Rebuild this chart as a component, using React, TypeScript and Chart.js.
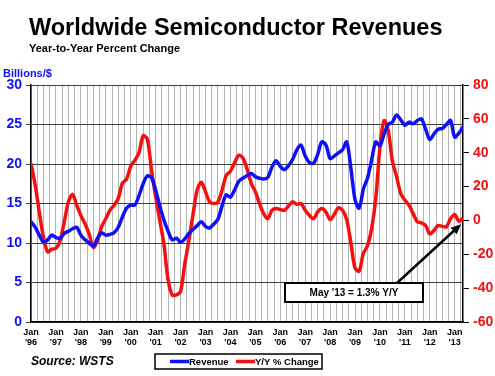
import React, { useEffect, useRef } from 'react';
import { Chart, registerables } from 'chart.js';

Chart.register(...registerables);

// Year labels for the January ticks (every 12 months from Jan '96)
const YEAR_LABELS = ["'96", "'97", "'98", "'99", "'00", "'01", "'02", "'03", "'04", "'05", "'06", "'07", "'08", "'09", "'10", "'11", "'12", "'13"];

// Revenue (billions $), read every 2 months from Jan '96 to May '13
const REVENUE = [
  12.7, 12.0, 11.0, 10.1, 10.4, 11.0, 10.7, 10.6, 11.2, 11.5, 11.8, 12.0,
  11.0, 10.4, 10.0, 9.6, 10.6, 11.3, 11.0, 11.1, 11.3, 12.0, 13.3, 14.4,
  14.8, 14.8, 16.0, 17.5, 18.5, 18.3, 16.7, 14.7, 12.9, 11.5, 10.4, 10.6,
  10.1, 10.5, 11.2, 11.7, 12.2, 12.7, 12.1, 11.9, 12.4, 13.0, 14.7, 16.1,
  15.8, 16.7, 17.8, 18.2, 18.5, 18.8, 18.4, 18.2, 18.1, 18.3, 19.6, 20.4,
  19.7, 19.3, 19.8, 20.6, 21.8, 22.4, 21.0, 20.2, 20.1, 21.2, 22.8, 22.4,
  20.7, 21.0, 21.4, 21.8, 22.8, 19.5, 15.5, 14.4, 16.8, 18.2, 20.5, 22.8,
  22.3, 23.8, 25.0, 25.3, 26.2, 25.6, 24.9, 25.3, 25.1, 25.5, 25.7, 24.4,
  23.1, 23.8, 24.4, 24.5, 25.0, 25.5, 23.4, 23.9, 24.7
];

// Year-to-year % change, same months
const YOY = [
  33.7, 21, 5, -10, -18.5, -17, -16.5, -12, -1, 11, 15.4, 9,
  3, -2, -8, -16, -12, -3.7, 1, 6, 9, 13, 22, 24.3,
  32, 35.5, 40, 50, 48, 30, 14, 0, -14, -35, -44, -44,
  -42, -26, -12, 3.5, 18, 22.5, 17, 11, 10, 11, 18, 26.5,
  29, 34, 38.5, 37, 30.5, 22, 17, 10, 4, 1, 6, 7,
  6.5, 6, 8.5, 11, 9.5, 10, 6, 3, 1, 5, 7, 5,
  0.5, 3.5, 7.5, 6, 0.5, -13, -28, -30, -19.5, -15, -5, 13,
  43, 59, 53, 35, 26, 16, 12, 9, 4, -0.8, -1.5, -3,
  -8, -6, -3, -3.5, -3.8, 1, 3.5, -0.5, 1.3
];

const MONTH_STEP = 2;
const MONTH_INDEX = REVENUE.map((_, i) => i * MONTH_STEP);
const LAST_MONTH = MONTH_INDEX[MONTH_INDEX.length - 1];

const TITLE = 'Worldwide Semiconductor Revenues';
const SUBTITLE = 'Year-to-Year Percent Change';
const LEFT_UNIT = 'Billions/$';
const SOURCE = 'Source: WSTS';
const ANNOTATION = "May '13 = 1.3% Y/Y";
const SERIES_NAMES = ['Revenue', 'Y/Y % Change'];

const FONT = "'Liberation Sans', Arial, sans-serif";
const BLUE = '#1010f5';
const RED = '#f51010';

const overlayPlugin = {
  id: 'overlay',
  afterDraw(chart: any) {
    const ctx = chart.ctx;
    ctx.save();
    ctx.textBaseline = 'alphabetic';
    ctx.textAlign = 'left';
    // Title
    ctx.fillStyle = '#000';
    ctx.font = `bold 23.5px ${FONT}`;
    ctx.fillText(TITLE, 29, 35);
    ctx.font = `bold 11px ${FONT}`;
    ctx.fillText(SUBTITLE, 29, 52);
    // Unit
    ctx.fillStyle = BLUE;
    ctx.font = `bold 11px ${FONT}`;
    ctx.fillText(LEFT_UNIT, 3, 77);
    // Source
    ctx.fillStyle = '#000';
    ctx.font = `italic bold 12px ${FONT}`;
    ctx.fillText(SOURCE, 31, 365);

    // Legend box
    const lx = 155, ly = 354, lw = 167, lh = 15;
    ctx.fillStyle = '#fff';
    ctx.fillRect(lx, ly, lw, lh);
    ctx.strokeStyle = '#000';
    ctx.lineWidth = 1.5;
    ctx.strokeRect(lx, ly, lw, lh);
    ctx.lineWidth = 3.5;
    ctx.font = `bold 9.5px ${FONT}`;
    ctx.textBaseline = 'middle';
    const cy = ly + lh / 2;
    ctx.strokeStyle = BLUE;
    ctx.beginPath(); ctx.moveTo(170, cy); ctx.lineTo(189, cy); ctx.stroke();
    ctx.fillStyle = '#000';
    ctx.fillText(SERIES_NAMES[0], 189, cy + 0.5);
    ctx.strokeStyle = RED;
    ctx.beginPath(); ctx.moveTo(236, cy); ctx.lineTo(255, cy); ctx.stroke();
    ctx.fillText(SERIES_NAMES[1], 255, cy + 0.5);

    // Annotation
    const xs = chart.scales.x, y2 = chart.scales.y2;
    const tipX = xs.getPixelForValue(LAST_MONTH) - 2;
    const tipY = y2.getPixelForValue(YOY[YOY.length - 1]) + 6;
    const bx = 285, by = 283, bw = 138, bh = 19;
    const sx = 397, sy = by;
    ctx.strokeStyle = '#000';
    ctx.lineWidth = 2.5;
    const ang = Math.atan2(tipY - sy, tipX - sx);
    const hl = 10, hw = 4.5;
    const baseX = tipX - hl * Math.cos(ang), baseY = tipY - hl * Math.sin(ang);
    ctx.beginPath(); ctx.moveTo(sx, sy); ctx.lineTo(baseX, baseY); ctx.stroke();
    ctx.fillStyle = '#000';
    ctx.beginPath();
    ctx.moveTo(tipX, tipY);
    ctx.lineTo(baseX + hw * Math.sin(ang), baseY - hw * Math.cos(ang));
    ctx.lineTo(baseX - hw * Math.sin(ang), baseY + hw * Math.cos(ang));
    ctx.closePath();
    ctx.fill();
    ctx.fillStyle = '#fff';
    ctx.fillRect(bx, by, bw, bh);
    ctx.lineWidth = 2;
    ctx.strokeRect(bx, by, bw, bh);
    ctx.fillStyle = '#000';
    ctx.font = `bold 10px ${FONT}`;
    ctx.textAlign = 'center';
    ctx.fillText(ANNOTATION, bx + bw / 2, by + bh / 2 + 0.5);
    ctx.restore();
  },
};

export default function App() {
  const ref = useRef<HTMLCanvasElement>(null);
  useEffect(() => {
    document.body.style.margin = '0';
    const canvas = ref.current!;
    const quarterTicks: { value: number }[] = [];
    for (let m = 0; m <= LAST_MONTH; m += 3) quarterTicks.push({ value: m });
    const chart = new Chart(canvas, {
      type: 'line',
      data: {
        datasets: [
          {
            label: SERIES_NAMES[0],
            data: MONTH_INDEX.map((m, i) => ({ x: m, y: REVENUE[i] })),
            yAxisID: 'y',
            borderColor: BLUE,
            borderWidth: 3.5,
            pointRadius: 0,
            tension: 0.3,
          },
          {
            label: SERIES_NAMES[1],
            data: MONTH_INDEX.map((m, i) => ({ x: m, y: YOY[i] })),
            yAxisID: 'y2',
            borderColor: RED,
            borderWidth: 3.5,
            pointRadius: 0,
            tension: 0.3,
          },
        ],
      },
      options: {
        responsive: false,
        animation: false,
        events: [],
        layout: { padding: { top: 85, left: 0, right: 0, bottom: 0 } },
        plugins: { legend: { display: false }, tooltip: { enabled: false }, title: { display: false } },
        scales: {
          x: {
            type: 'linear',
            min: 0,
            max: LAST_MONTH,
            afterBuildTicks: (s: any) => { s.ticks = quarterTicks.map(t => ({ ...t })); },
            afterFit: (s: any) => { s.height = 54; },
            grid: { color: '#b4b4b4', lineWidth: 1, drawTicks: false },
            border: { display: true, color: '#000', width: 1.5 },
            ticks: {
              autoSkip: false,
              maxRotation: 0,
              padding: 6,
              color: '#000',
              font: { family: FONT, size: 9, weight: 'bold', lineHeight: 1.05 },
              callback: (v: any) => (v % 12 === 0 ? ['Jan', YEAR_LABELS[v / 12]] : ''),
            },
          },
          y: {
            position: 'left',
            min: 0,
            max: 30,
            afterFit: (s: any) => { s.width = 31; },
            grid: { color: '#404040', lineWidth: 1, tickLength: 5 },
            border: { display: true, color: '#000', width: 1.5 },
            ticks: { stepSize: 5, padding: 4, color: BLUE, font: { family: FONT, size: 14, weight: 'bold' } },
          },
          y2: {
            position: 'right',
            min: -60,
            max: 80,
            afterFit: (s: any) => { s.width = 32; },
            grid: { drawOnChartArea: false, color: '#000', tickLength: 6 },
            border: { display: true, color: '#000', width: 1.5 },
            ticks: { stepSize: 20, padding: 4, color: RED, font: { family: FONT, size: 14, weight: 'bold' } },
          },
        },
      } as any,
      plugins: [overlayPlugin],
    });
    return () => chart.destroy();
  }, []);
  return (
    <div style={{ width: 495, height: 376, background: '#fff' }}>
      <canvas ref={ref} width={495} height={376} style={{ display: 'block' }} />
    </div>
  );
}
